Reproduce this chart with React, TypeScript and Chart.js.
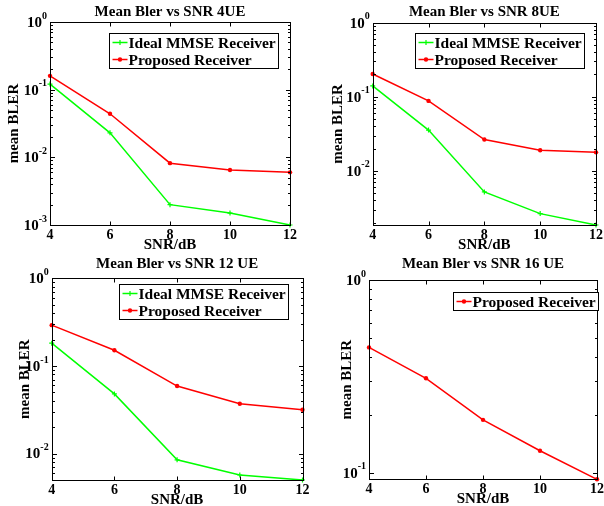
import React, { useEffect, useRef } from "react";
import { Chart, registerables } from "chart.js";

Chart.register(...registerables);

// ---------- data ----------
const snrDb = [4, 6, 8, 10, 12];
const xTickValues = [4, 6, 8, 10, 12];

const ideal4UE = [0.121, 0.023, 0.002, 0.0015, 0.001];
const proposed4UE = [0.16, 0.044, 0.0082, 0.0065, 0.006];

const ideal8UE = [0.14, 0.0355, 0.0052, 0.00265, 0.00186];
const proposed8UE = [0.203, 0.088, 0.0265, 0.019, 0.0178];

const ideal12UE = [0.182, 0.048, 0.0085, 0.0057, 0.005];
const proposed12UE = [0.292, 0.151, 0.059, 0.037, 0.0316];

const proposed16UE = [0.447, 0.309, 0.188, 0.13, 0.0924];

const idealName = "Ideal MMSE Receiver";
const proposedName = "Proposed Receiver";
const panelTitles = [
  "Mean Bler vs SNR 4UE",
  "Mean Bler vs SNR 8UE",
  "Mean Bler vs SNR 12 UE",
  "Mean Bler vs SNR 16 UE",
];
const xAxisTitle = "SNR/dB";
const yAxisTitle = "mean BLER";

// ---------- style ----------
const GREEN = "#00ff00";
const RED = "#ff0000";
const FONT = "'Liberation Serif', 'Times New Roman', serif";

type Series = { name: string; values: number[]; color: string; marker: "cross" | "circle" };
type Panel = {
  left: number;
  top: number;
  width: number;
  height: number;
  pad: { left: number; top: number; right: number; bottom: number };
  yMin: number;
  yMax: number;
  title: string;
  titleY: number;
  yTitleX: number;
  legendRight: number;
  legendTop: number;
  series: Series[];
};

const panels: Panel[] = [
  {
    left: 0, top: 0, width: 302, height: 253,
    pad: { left: 50, top: 22, right: 12, bottom: 28 },
    yMin: 0.001, yMax: 1,
    title: panelTitles[0], titleY: 12, yTitleX: 14,
    legendRight: 278, legendTop: 33,
    series: [
      { name: idealName, values: ideal4UE, color: GREEN, marker: "cross" },
      { name: proposedName, values: proposed4UE, color: RED, marker: "circle" },
    ],
  },
  {
    left: 302, top: 0, width: 302, height: 253,
    pad: { left: 70.7, top: 22.7, right: 8, bottom: 28 },
    yMin: 0.00186, yMax: 1,
    title: panelTitles[1], titleY: 12, yTitleX: 36,
    legendRight: 282.3, legendTop: 33.3,
    series: [
      { name: idealName, values: ideal8UE, color: GREEN, marker: "cross" },
      { name: proposedName, values: proposed8UE, color: RED, marker: "circle" },
    ],
  },
  {
    left: 0, top: 253, width: 312, height: 253,
    pad: { left: 51.7, top: 25.3, right: 9.5, bottom: 26 },
    yMin: 0.005, yMax: 1,
    title: panelTitles[2], titleY: 11, yTitleX: 25,
    legendRight: 288.3, legendTop: 31.3,
    series: [
      { name: idealName, values: ideal12UE, color: GREEN, marker: "cross" },
      { name: proposedName, values: proposed12UE, color: RED, marker: "circle" },
    ],
  },
  {
    left: 302, top: 253, width: 302, height: 253,
    pad: { left: 67, top: 27, right: 7, bottom: 26.7 },
    yMin: 0.0924, yMax: 1,
    title: panelTitles[3], titleY: 11, yTitleX: 44.7,
    legendRight: 296.3, legendTop: 38.7,
    series: [{ name: proposedName, values: proposed16UE, color: RED, marker: "circle" }],
  },
];

const bold = (px: number) => `bold ${px}px ${FONT}`;

function drawMarker(ctx: CanvasRenderingContext2D, s: Series, x: number, y: number) {
  ctx.save();
  ctx.strokeStyle = s.color;
  ctx.fillStyle = s.color;
  if (s.marker === "cross") {
    ctx.lineWidth = 1.2;
    ctx.beginPath();
    ctx.moveTo(x - 2.5, y);
    ctx.lineTo(x + 2.5, y);
    ctx.moveTo(x, y - 2.5);
    ctx.lineTo(x, y + 2.5);
    ctx.stroke();
  } else {
    ctx.beginPath();
    ctx.arc(x, y, 2.2, 0, Math.PI * 2);
    ctx.fill();
  }
  ctx.restore();
}

const matlabAxesPlugin = {
  id: "matlabAxes",
  afterDatasetsDraw(chart: any) {
    const panel: Panel = chart.options.plugins.matlabAxes.panel;
    const ctx: CanvasRenderingContext2D = chart.ctx;
    const { left, right, top, bottom } = chart.chartArea;
    const xs = chart.scales.x;
    const ys = chart.scales.y;
    const L = Math.round(left) + 0.5;
    const R = Math.round(right) + 0.5;
    const T = Math.round(top) + 0.5;
    const B = Math.round(bottom) + 0.5;
    ctx.save();
    ctx.strokeStyle = "#000";
    ctx.lineWidth = 1;
    ctx.strokeRect(L, T, R - L, B - T);

    // x ticks (inside, bottom and top)
    ctx.beginPath();
    for (const v of xTickValues) {
      const px = Math.round(xs.getPixelForValue(v)) + 0.5;
      ctx.moveTo(px, B);
      ctx.lineTo(px, B - 4);
      ctx.moveTo(px, T);
      ctx.lineTo(px, T + 4);
    }
    ctx.stroke();

    // y ticks (major and minor, inside, left and right)
    const eLo = Math.floor(Math.log10(panel.yMin));
    const eHi = Math.ceil(Math.log10(panel.yMax));
    ctx.beginPath();
    for (let e = eLo; e <= eHi; e++) {
      for (let m = 1; m <= 9; m++) {
        const v = m * Math.pow(10, e);
        if (v < panel.yMin * 0.9999 || v > panel.yMax * 1.0001) continue;
        const py = Math.round(ys.getPixelForValue(v)) + 0.5;
        const len = m === 1 ? 4.5 : 2.5;
        ctx.moveTo(L, py);
        ctx.lineTo(L + len, py);
        ctx.moveTo(R, py);
        ctx.lineTo(R - len, py);
      }
    }
    ctx.stroke();

    // y tick labels 10^e
    ctx.fillStyle = "#000";
    for (let e = eLo; e <= eHi; e++) {
      const v = Math.pow(10, e);
      if (v < panel.yMin * 0.9999 || v > panel.yMax * 1.0001) continue;
      const py = ys.getPixelForValue(v);
      const expText = String(e);
      ctx.font = bold(10);
      const expW = ctx.measureText(expText).width;
      ctx.textAlign = "left";
      ctx.textBaseline = "middle";
      ctx.fillText(expText, left - 3 - expW, py - 6);
      ctx.font = bold(15);
      ctx.textAlign = "right";
      ctx.fillText("10", left - 3 - expW, py + 1);
    }

    // x tick labels
    ctx.font = bold(14);
    ctx.textAlign = "center";
    ctx.textBaseline = "middle";
    for (const v of xTickValues) {
      ctx.fillText(String(v), xs.getPixelForValue(v), bottom + 10);
    }

    // axis titles
    ctx.font = bold(15);
    ctx.fillText(xAxisTitle, (left + right) / 2, bottom + 20);
    ctx.save();
    ctx.translate(panel.yTitleX, (top + bottom) / 2);
    ctx.rotate(-Math.PI / 2);
    ctx.fillText(yAxisTitle, 0, 0);
    ctx.restore();

    // title
    ctx.font = bold(15);
    ctx.fillText(panel.title, (left + right) / 2, panel.titleY);

    // legend
    ctx.font = bold(15.5);
    const rowH = 17;
    let maxW = 0;
    for (const s of panel.series) maxW = Math.max(maxW, ctx.measureText(s.name).width);
    const boxW = 3 + 15 + 1 + maxW + 3;
    const boxH = panel.series.length * rowH + 1;
    const bx = Math.round(panel.legendRight - boxW) + 0.5;
    const by = Math.round(panel.legendTop) + 0.5;
    ctx.fillStyle = "#fff";
    ctx.fillRect(bx, by, Math.round(boxW), Math.round(boxH));
    ctx.strokeStyle = "#000";
    ctx.lineWidth = 1;
    ctx.strokeRect(bx, by, Math.round(boxW), Math.round(boxH));
    panel.series.forEach((s, i) => {
      const cy = by + 9 + i * rowH;
      ctx.strokeStyle = s.color;
      ctx.lineWidth = 1.5;
      ctx.beginPath();
      ctx.moveTo(bx + 3, cy);
      ctx.lineTo(bx + 18, cy);
      ctx.stroke();
      drawMarker(ctx, s, bx + 10.5, cy);
      ctx.fillStyle = "#000";
      ctx.textAlign = "left";
      ctx.textBaseline = "middle";
      ctx.fillText(s.name, bx + 19, cy + 1);
    });
    ctx.restore();
  },
};

function PanelChart({ panel }: { panel: Panel }) {
  const ref = useRef<HTMLCanvasElement | null>(null);
  useEffect(() => {
    if (!ref.current) return;
    const chart = new Chart(ref.current, {
      type: "line",
      data: {
        datasets: panel.series.map((s) => ({
          label: s.name,
          data: snrDb.map((x, i) => ({ x, y: s.values[i] })),
          borderColor: s.color,
          backgroundColor: s.color,
          borderWidth: 1.5,
          pointStyle: s.marker === "cross" ? "cross" : "circle",
          pointRadius: s.marker === "cross" ? 2.5 : 2.2,
          pointBorderWidth: s.marker === "cross" ? 1.2 : 0,
          pointBackgroundColor: s.color,
          pointBorderColor: s.color,
          tension: 0,
          clip: false as any,
        })),
      },
      options: {
        responsive: false,
        animation: false,
        events: [],
        devicePixelRatio: 1,
        layout: { padding: panel.pad },
        scales: {
          x: { type: "linear", min: 4, max: 12, display: false },
          y: { type: "logarithmic", min: panel.yMin, max: panel.yMax, display: false },
        },
        plugins: {
          legend: { display: false },
          title: { display: false },
          tooltip: { enabled: false },
          matlabAxes: { panel },
        } as any,
      },
      plugins: [matlabAxesPlugin],
    });
    return () => chart.destroy();
  }, [panel]);
  return (
    <canvas
      ref={ref}
      width={panel.width}
      height={panel.height}
      style={{
        position: "absolute",
        left: panel.left,
        top: panel.top,
        width: panel.width,
        height: panel.height,
      }}
    />
  );
}

export default function App() {
  return (
    <div
      style={{
        position: "fixed",
        left: 0,
        top: 0,
        width: 604,
        height: 506,
        background: "#fff",
        overflow: "hidden",
      }}
    >
      {panels.map((p, i) => (
        <PanelChart key={i} panel={p} />
      ))}
    </div>
  );
}
